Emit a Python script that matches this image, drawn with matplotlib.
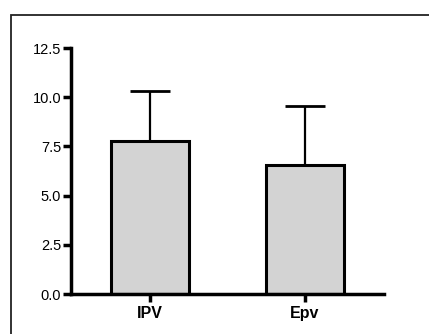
# encoding: utf-8

# Bar chart with upper error bars, IPV vs Epv.

import matplotlib.pyplot as plt
from matplotlib.patches import Rectangle

groups = ['IPV', 'Epv']
means = [7.75, 6.55]
errors = [2.55, 3.0]
y_ticks = [0.0, 2.5, 5.0, 7.5, 10.0, 12.5]

W, H = 429, 334


def main():
    plt.rcParams['font.family'] = ['Liberation Sans', 'DejaVu Sans']
    fig = plt.figure(figsize=(W / 100, H / 100), dpi=100)
    ax = fig.add_axes([71 / W, 1 - 294 / H, (384 - 71) / W, (294 - 48) / H])

    x = list(range(len(groups)))
    ax.bar(x, means, width=0.5, color='#d3d3d3', edgecolor='black',
           linewidth=2.2, zorder=2)
    ax.errorbar(x, means, yerr=[[0] * len(errors), errors], fmt='none',
                ecolor='black', elinewidth=1.6, capsize=14.5, capthick=2,
                zorder=1)

    ax.set_xlim(-0.51, 1.51)
    ax.set_ylim(0, 12.5)
    ax.set_yticks(y_ticks)
    ax.set_yticklabels(["%.1f" % t for t in y_ticks], fontsize=10.5)
    ax.set_xticks(x)
    ax.set_xticklabels(groups, fontsize=11.5, fontweight='bold')

    for side in ['top', 'right']:
        ax.spines[side].set_visible(False)
    for side in ['left', 'bottom']:
        ax.spines[side].set_linewidth(2.5)
    ax.tick_params(axis='both', width=2.5, length=5.5, direction='out',
                   pad=1.5)
    ax.tick_params(axis='x', pad=3)

    # outer frame, cut off on the right and bottom
    fig.patches.append(Rectangle((11 / W, -0.2), 2, 1.2 - 15 / H,
                                 transform=fig.transFigure, fill=False,
                                 edgecolor='#222222', linewidth=1.3))

    fig.savefig('out.png', dpi=100)


if __name__ == '__main__':
    main()
